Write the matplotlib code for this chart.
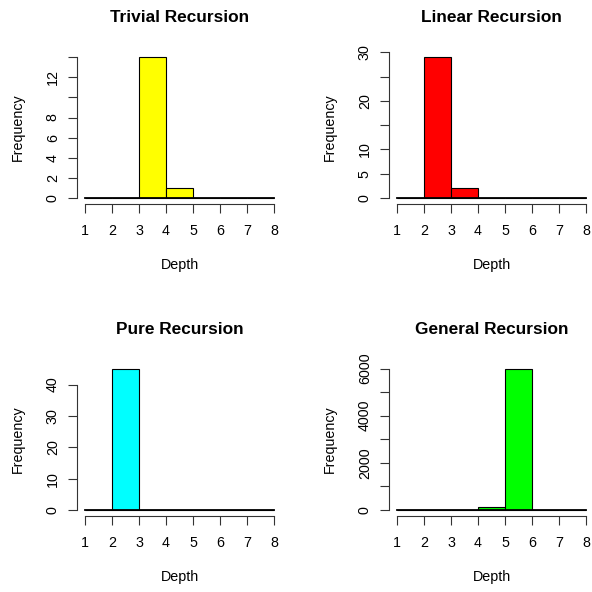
import matplotlib
matplotlib.use("Agg")
import matplotlib.pyplot as plt
import numpy as np

plt.rcParams['font.family'] = ['Liberation Sans', 'DejaVu Sans']

breaks = [1, 2, 3, 4, 5, 6, 7, 8]
titles = ["Trivial Recursion", "Linear Recursion", "Pure Recursion", "General Recursion"]
colors = ["#FFFF00", "#FF0000", "#00FFFF", "#00FF00"]
counts_trivial = [0, 0, 14, 1, 0, 0, 0]
counts_linear = [0, 29, 2, 0, 0, 0, 0]
counts_pure = [0, 45, 0, 0, 0, 0, 0]
counts_general = [2, 15, 0, 130, 5990, 0, 0]
yticks_trivial = [0, 2, 4, 6, 8, 10, 12, 14]
ylabels_trivial = ["0", "2", "4", "6", "8", "", "12", ""]
yticks_linear = [0, 5, 10, 15, 20, 25, 30]
ylabels_linear = ["0", "5", "10", "", "20", "", "30"]
yticks_pure = [0, 10, 20, 30, 40]
ylabels_pure = ["0", "10", "20", "30", "40"]
yticks_general = [0, 1000, 2000, 3000, 4000, 5000, 6000]
ylabels_general = ["0", "", "2000", "", "4000", "", "6000"]

all_counts = [counts_trivial, counts_linear, counts_pure, counts_general]
all_yticks = [yticks_trivial, yticks_linear, yticks_pure, yticks_general]
all_ylabels = [ylabels_trivial, ylabels_linear, ylabels_pure, ylabels_general]

W = H = 592
fig = plt.figure(figsize=(W / 100, H / 100), dpi=100)

# pixel rects (left, top, width, height)
lefts = [77.4, 389.4, 77.4, 389.4]
tops = [51.4, 51.4, 363.2, 363.2]
aw, ah = 204.2, 152.4

label_fs = 10.3
title_fs = 12.4

for i in range(4):
    l, t = lefts[i], tops[i]
    ax = fig.add_axes([l / W, 1 - (t + ah) / H, aw / W, ah / H])
    counts = all_counts[i]
    edges = np.array(breaks, dtype=float)
    ax.bar(edges[:-1], counts, width=np.diff(edges), align='edge',
           color=colors[i], edgecolor='black', linewidth=0.8, clip_on=False)
    ax.plot([breaks[0], breaks[-1]], [0, 0], color='black', lw=1.3, zorder=3)
    ymax = max(counts)
    ax.set_xlim(1 - 0.04 * 7, 8 + 0.04 * 7)
    ax.set_ylim(-0.04 * ymax, ymax * 1.04)
    ax.set_xticks(breaks)
    ax.set_xticklabels([str(b) for b in breaks], fontsize=label_fs)
    ax.set_yticks(all_yticks[i])
    ax.set_yticklabels(all_ylabels[i], fontsize=label_fs, rotation=90, va='center')
    for s in ['top', 'right']:
        ax.spines[s].set_visible(False)
    ax.spines['left'].set_bounds(all_yticks[i][0], all_yticks[i][-1])
    ax.spines['bottom'].set_bounds(breaks[0], breaks[-1])
    for s in ['left', 'bottom']:
        ax.spines[s].set_linewidth(0.8)
        ax.spines[s].set_color('#333333')
    ax.tick_params(axis='both', length=6.2, width=0.8, color='#333333')
    ax.tick_params(axis='x', pad=8.5)
    ax.tick_params(axis='y', pad=6.5)
    ax.patch.set_visible(False)
    ax.text(0.5, 1 + 34.0 / ah, titles[i], transform=ax.transAxes, ha='center',
            va='center', fontsize=title_fs, fontweight='bold')
    ax.text(0.5, -61.4 / ah, "Depth", transform=ax.transAxes, ha='center',
            va='center', fontsize=label_fs)
    ax.text(-59.6 / aw, 0.5, "Frequency", transform=ax.transAxes, ha='center',
            va='center', rotation=90, fontsize=label_fs)

fig.savefig("out.png", dpi=100)
